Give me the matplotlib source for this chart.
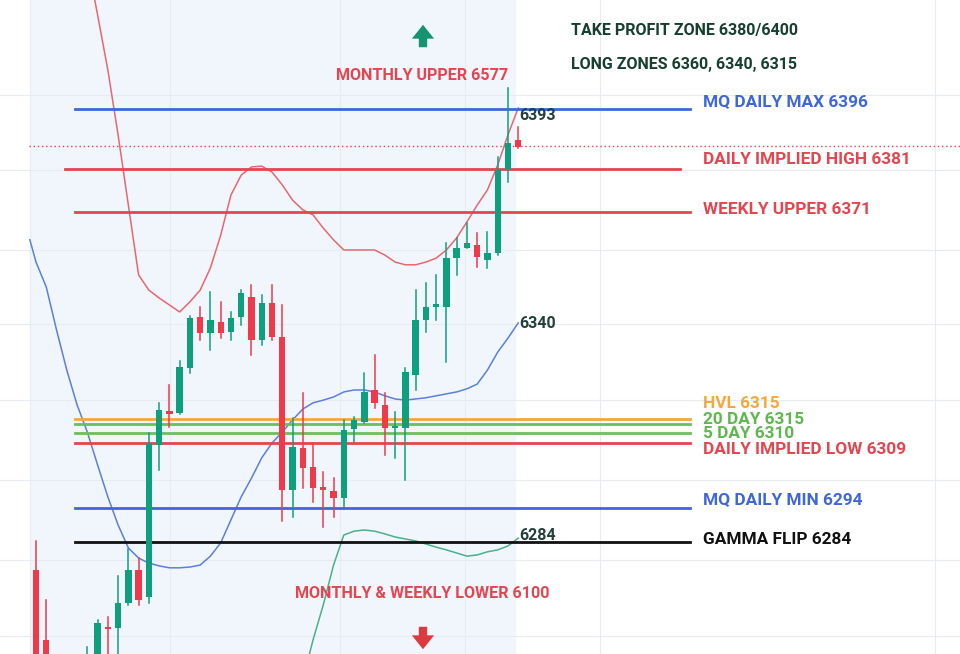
import matplotlib
matplotlib.use("Agg")
import matplotlib.pyplot as plt
import numpy as np

# ---- data ----
candle_idx = [0, 1] + list(range(5, 48))
opens = [6277.8, 6259.9, 6247.0, 6249.6, 6263.2, 6263.0, 6269.4, 6277.8, 6270.9, 6309.9,
         6318.6, 6318.1, 6329.6, 6342.7, 6338.6, 6341.4, 6338.9, 6342.7, 6347.8, 6336.8,
         6346.3, 6337.6, 6298.4, 6309.1, 6304.3, 6298.9, 6298.1, 6296.3, 6314.0, 6315.8,
         6324.0, 6320.2, 6314.2, 6314.2, 6327.8, 6341.9, 6345.4, 6345.3, 6357.8, 6360.4,
         6361.2, 6357.3, 6359.1, 6380.4, 6388.1]
highs = [6285.3, 6270.1, 6258.1, 6265.0, 6265.8, 6276.3, 6283.2, 6280.9, 6313.0, 6320.7,
         6325.3, 6331.4, 6343.0, 6345.3, 6349.1, 6346.6, 6344.0, 6349.6, 6350.9, 6348.4,
         6350.9, 6345.8, 6316.8, 6323.2, 6310.4, 6302.9, 6301.4, 6316.3, 6317.1, 6328.4,
         6333.0, 6323.2, 6318.4, 6329.6, 6349.6, 6351.4, 6353.5, 6361.7, 6363.0, 6366.8,
         6364.3, 6364.5, 6383.7, 6401.4, 6391.4]
lows = [6247.0, 6247.0, 6245.0, 6247.0, 6254.8, 6253.5, 6268.9, 6268.9, 6269.4, 6303.5,
        6314.5, 6317.8, 6328.4, 6336.8, 6334.3, 6337.3, 6336.8, 6340.7, 6333.0, 6335.5,
        6336.8, 6290.4, 6291.4, 6298.9, 6295.3, 6288.9, 6291.4, 6294.0, 6310.6, 6315.5,
        6319.4, 6307.3, 6306.6, 6300.9, 6324.0, 6338.9, 6341.9, 6331.2, 6353.5, 6360.4,
        6355.5, 6355.3, 6358.6, 6377.3, 6386.0]
closes = [6249.6, 6249.6, 6254.8, 6264.3, 6262.7, 6269.4, 6277.8, 6270.1, 6310.4, 6318.9,
          6317.8, 6329.9, 6342.5, 6338.6, 6341.9, 6338.6, 6342.5, 6348.9, 6336.8, 6346.3,
          6337.6, 6298.4, 6309.4, 6304.0, 6298.9, 6298.4, 6296.3, 6313.7, 6316.3, 6323.5,
          6320.7, 6314.2, 6314.5, 6328.6, 6341.9, 6345.3, 6345.7, 6357.8, 6360.4, 6361.7,
          6358.1, 6359.1, 6380.4, 6387.3, 6386.3]

upper_idx = list(range(5, 48))
upper_band = [6434, 6420.2, 6406.1, 6389.4, 6371.4, 6353.5, 6349.6, 6347.6, 6345.8, 6344.0,
              6346.6, 6349.6, 6355.3, 6363.7, 6374.0, 6379.1, 6381.2, 6381.4, 6379.9, 6376.6,
              6372.7, 6370.2, 6368.9, 6365.5, 6362.5, 6359.9, 6359.9, 6359.9, 6359.9, 6358.6,
              6356.8, 6356.1, 6356.1, 6356.8, 6357.8, 6359.9, 6363.0, 6367.1, 6371.4, 6375.3,
              6381.7, 6389.4, 6396.3]
mid_idx = [-0.6] + list(range(0, 48))
mid_band = [6362.5, 6356.8, 6350.4, 6339.4, 6329.1, 6320.2, 6313.2, 6304.8, 6296.6, 6289.4,
            6283.5, 6280.9, 6279.6, 6278.9, 6278.4, 6278.4, 6278.6, 6279.1, 6281.4, 6284.8,
            6290.7, 6296.6, 6301.4, 6306.6, 6310.4, 6313.2, 6316.3, 6319.1, 6320.7, 6321.4,
            6322.2, 6323.5, 6324.0, 6324.0, 6323.5, 6322.5, 6321.7, 6321.4, 6321.7, 6322.0,
            6322.5, 6323.0, 6323.5, 6324.3, 6325.5, 6329.1, 6333.7, 6337.3, 6341.2]
lower_idx = list(range(26, 48))
lower_band = [6249.6, 6259.9, 6268.9, 6279.1, 6286.8, 6287.8, 6288.1, 6287.8, 6287.1, 6286.3,
              6285.8, 6285.3, 6284.5, 6283.7, 6283.0, 6282.2, 6281.4, 6281.7, 6282.5, 6283.0,
              6284.0, 6286.0]

level_prices = [6396.1, 6380.7, 6369.6, 6316.6, 6315.3, 6313.0, 6310.4, 6293.7, 6285.0]
level_colors = ["#3f67dc", "#e5454f", "#e5454f", "#f5a83a", "#6cbf5d", "#6cbf5d", "#e5454f", "#3f67dc", "#111111"]
level_x0 = [3.8, 2.8, 3.8, 3.8, 3.8, 3.8, 3.8, 3.8, 3.8]
level_x1 = [63.7, 62.8, 63.7, 63.7, 63.7, 63.7, 63.7, 63.7, 63.7]
level_labels = ["MQ DAILY MAX 6396", "DAILY IMPLIED HIGH 6381", "WEEKLY UPPER 6371", "HVL 6315",
                "20 DAY 6315", "5 DAY 6310", "DAILY IMPLIED LOW 6309", "MQ DAILY MIN 6294", "GAMMA FLIP 6284"]
label_y_px = [102, 159, 209, 403, 420, 434, 449, 500, 540]
last_price = 6386.6

UP = "#0e9f7e"
DN = "#ee3a4a"

fig = plt.figure(figsize=(9.6, 6.54), dpi=100)
ax = fig.add_axes([0, 0, 1, 1])
ax.set_xlim(-3.51, 90.06)
ax.set_ylim(6256.3, 6424.0)
ax.axis("off")

def px(x, y):
    return (x / 960.0, 1 - y / 654.0)

# background shading
ax.axvspan(-0.6, 46.7, color="#f1f6fc", zorder=0)
for gx in [-0.6, 13.1, 29.6, 41.8, 55.0, 87.6]:
    ax.axvline(gx, color="#e8ecf1", lw=0.8, zorder=0.5)
for gy in [6399.6, 6380.4, 6360, 6341, 6321.4, 6301, 6280.4, 6261]:
    ax.axhline(gy, color="#e8ecf1", lw=0.8, zorder=0.5)

# bands
ax.plot(upper_idx, upper_band, color="#e8676e", lw=1.1, zorder=2)
ax.plot(mid_idx, mid_band, color="#5b7fe0", lw=1.1, zorder=2)
ax.plot(lower_idx, lower_band, color="#4bb08a", lw=1.1, zorder=2)

# levels
for p, c, a, b in zip(level_prices, level_colors, level_x0, level_x1):
    ax.plot([a, b], [p, p], color=c, lw=2.0, zorder=3)
ax.axhline(last_price, xmin=0.03, color=DN, lw=1.0, ls=(0, (1, 2)), zorder=3)

# candles
for i, o, h, l, c in zip(candle_idx, opens, highs, lows, closes):
    col = UP if c >= o else DN
    ax.plot([i, i], [l, h], color=col, lw=1.1, zorder=4)
    bot, top = min(o, c), max(o, c)
    ax.bar(i, max(top - bot, 0.6), bottom=bot, width=0.62, color=col, zorder=5)

# right labels
for t, c, y in zip(level_labels, level_colors, label_y_px):
    col = "#5eb84f" if c == "#6cbf5d" else c
    fig.text(*px(703, y), t, color=col, fontsize=12.4, fontweight="bold",
             family="Roboto", va="center", ha="left")

for t, y in [("6393", 116), ("6340", 323), ("6284", 535)]:
    fig.text(*px(519, y), t, color="#23403a", fontsize=11.5, fontweight="bold",
             family="Roboto", va="center", ha="left")

fig.text(*px(571, 30), "TAKE PROFIT ZONE 6380/6400", color="#173f2f", fontsize=11.5,
         fontweight="bold", family="Roboto", va="center")
fig.text(*px(571, 64), "LONG ZONES 6360, 6340, 6315", color="#173f2f", fontsize=11.5,
         fontweight="bold", family="Roboto", va="center")
fig.text(*px(422, 75), "MONTHLY UPPER 6577", color="#e5454f", fontsize=11.6,
         fontweight="bold", family="Roboto", va="center", ha="center")
fig.text(*px(422, 593), "MONTHLY & WEEKLY LOWER 6100", color="#e5454f", fontsize=11.6,
         fontweight="bold", family="Roboto", va="center", ha="center")

# arrows
ax.annotate("", xy=px(423, 22), xytext=px(423, 50), xycoords="figure fraction",
            arrowprops=dict(arrowstyle="simple,head_width=1.6,head_length=1.0,tail_width=0.6",
                            color="#16946f", lw=0))
ax.annotate("", xy=px(423, 652), xytext=px(423, 624), xycoords="figure fraction",
            arrowprops=dict(arrowstyle="simple,head_width=1.6,head_length=1.0,tail_width=0.6",
                            color="#dc3a40", lw=0))

fig.savefig("out.png", dpi=100, facecolor="white")
